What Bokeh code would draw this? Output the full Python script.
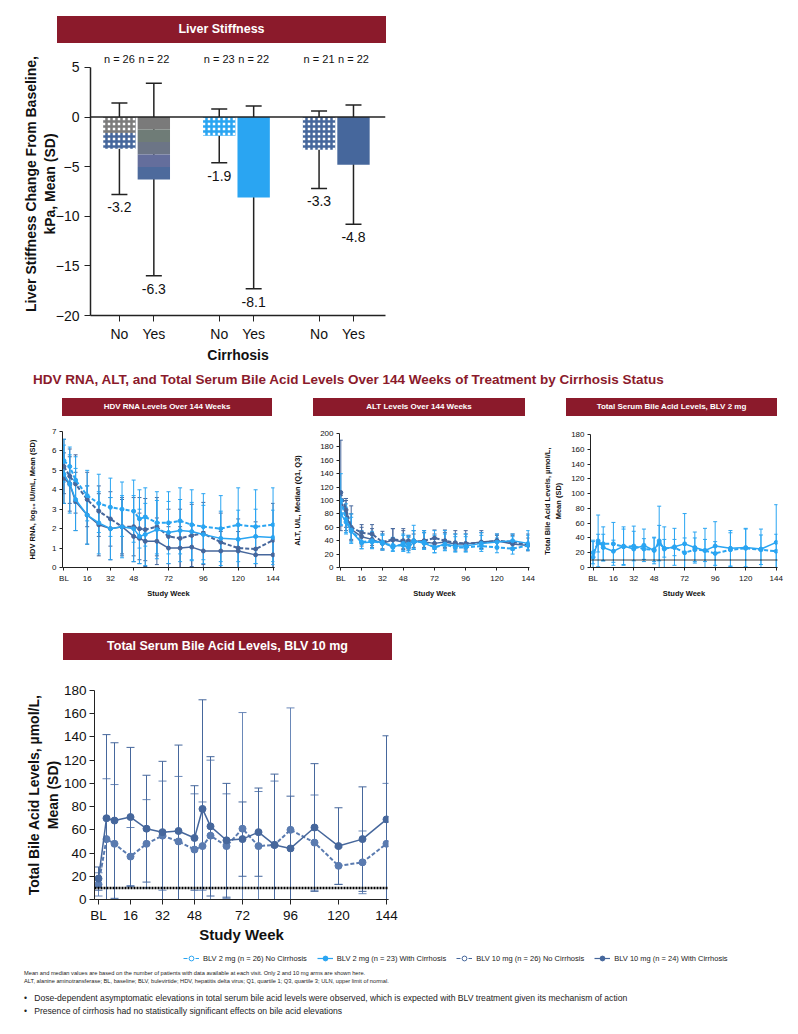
import numpy as np
from bokeh.plotting import figure
from bokeh.models import (Range1d, FixedTicker, ColumnDataSource, Whisker, TeeHead,
                          Span, Label, Div, Spacer, Legend, LegendItem)
from bokeh.layouts import column, row
from bokeh.embed import file_html
from bokeh.resources import INLINE
from bokeh.core.properties import value

# ---------------- data ----------------
# Liver stiffness (change from baseline, kPa)
ls_group = [0, 0, 1, 1, 2, 2]
ls_cirrhosis = ["No", "Yes", "No", "Yes", "No", "Yes"]
ls_n = ["n = 26", "n = 22", "n = 23", "n = 22", "n = 21", "n = 22"]
ls_mean = [-3.2, -6.3, -1.9, -8.1, -3.3, -4.8]
ls_sd = [4.6, 9.7, 2.7, 9.2, 3.9, 6.0]

weeks = [0, 4, 8, 16, 24, 32, 40, 48, 52, 56, 64, 72, 80, 88, 96, 108, 120, 132, 144]
week_ticks = [0, 16, 32, 48, 72, 96, 120, 144]
week_tick_labels = ["BL", "16", "32", "48", "72", "96", "120", "144"]

# HDV RNA, log10 IU/mL, mean (SD)
hdv_2_nc = [5.5, 5.2, 4.5, 3.7, 3.3, 3.1, 3.0, 2.9, 2.5, 2.6, 2.3, 2.3, 2.4, 2.2, 2.1, 2.0, 2.2, 2.1, 2.2]
hdv_2_nc_sd = [1.1, 1.0, 1.2, 1.3, 1.5, 1.5, 1.4, 1.6, 1.5, 1.5, 1.6, 1.6, 1.7, 1.8, 1.7, 1.7, 1.9, 1.9, 1.9]
hdv_2_wc = [4.8, 4.3, 3.5, 2.7, 2.3, 2.0, 2.1, 2.0, 1.6, 1.7, 1.95, 1.8, 1.9, 1.85, 1.7, 1.5, 1.45, 1.6, 1.55]
hdv_2_wc_sd = [1.5, 1.5, 1.6, 1.5, 1.6, 1.6, 1.6, 1.7, 1.4, 1.6, 1.5, 1.6, 1.6, 1.5, 1.5, 1.4, 1.5, 1.4, 1.4]
hdv_10_nc = [5.2, 4.7, 4.3, 3.5, 2.9, 2.5, 2.1, 2.1, 2.0, 1.95, 2.1, 1.6, 1.5, 1.65, 1.75, 1.3, 1.0, 0.95, 1.4]
hdv_10_nc_sd = [1.4, 1.4, 1.5, 1.4, 1.3, 1.4, 1.5, 1.5, 1.6, 1.6, 1.5, 1.4, 1.5, 1.6, 1.6, 1.5, 1.5, 1.4, 1.9]
hdv_10_wc = [4.6, 4.3, 3.4, 2.7, 2.2, 2.0, 2.1, 1.6, 1.5, 1.35, 1.35, 1.0, 1.0, 1.05, 0.85, 0.85, 0.85, 0.65, 0.65]
hdv_10_wc_sd = [1.3, 1.4, 1.5, 1.5, 1.6, 1.6, 1.4, 1.3, 1.3, 1.3, 1.2, 1.1, 1.1, 1.2, 1.0, 1.0, 1.0, 0.9, 0.9]

# ALT, U/L, median (Q1, Q3)
alt_2_nc = [100, 72, 56, 38, 40, 36, 33, 33, 30, 38, 38, 30, 34, 30, 30, 32, 30, 28, 33]
alt_2_nc_q1 = [64, 52, 38, 28, 29, 27, 25, 24, 22, 27, 28, 22, 25, 23, 23, 24, 22, 20, 25]
alt_2_nc_q3 = [140, 95, 80, 55, 54, 50, 45, 48, 45, 63, 55, 48, 50, 46, 46, 48, 44, 46, 48]
alt_2_wc = [80, 68, 54, 37, 38, 38, 30, 36, 35, 40, 36, 30, 35, 32, 32, 36, 38, 40, 36]
alt_2_wc_q1 = [63, 50, 36, 28, 28, 26, 24, 25, 25, 28, 27, 22, 26, 24, 24, 27, 28, 28, 27]
alt_2_wc_q3 = [101, 90, 75, 52, 52, 48, 44, 50, 48, 55, 52, 55, 55, 50, 50, 52, 50, 50, 55]
alt_10_nc = [112, 86, 60, 52, 50, 38, 42, 40, 40, 38, 40, 44, 40, 37, 36, 37, 40, 38, 34]
alt_10_nc_q1 = [55, 55, 42, 35, 33, 28, 30, 28, 28, 27, 30, 32, 30, 28, 28, 28, 30, 30, 26]
alt_10_nc_q3 = [190, 103, 92, 64, 64, 54, 58, 58, 48, 50, 55, 56, 56, 55, 55, 55, 50, 50, 44]
alt_10_wc = [100, 80, 57, 46, 42, 36, 41, 38, 35, 40, 38, 36, 38, 35, 35, 38, 40, 35, 33]
alt_10_wc_q1 = [62, 60, 40, 32, 30, 26, 30, 27, 26, 30, 28, 27, 28, 26, 26, 28, 30, 26, 25]
alt_10_wc_q3 = [113, 100, 80, 60, 58, 50, 58, 55, 46, 55, 52, 50, 52, 50, 50, 52, 48, 48, 50]

# Total serum bile acids, umol/L, mean (SD)
uln = 10
tba_2_nc = [20, 33, 32, 32, 28, 29, 25, 24, 33, 26, 27, 20, 24, 23, 19, 24, 26, 24, 22]
tba_2_nc_sd = [15, 12, 23, 29, 24, 20, 14, 16, 24, 12, 11, 20, 16, 15, 16, 23, 26, 20, 23]
tba_2_wc = [14, 36, 27, 22, 29, 25, 30, 23, 36, 25, 28, 32, 27, 23, 29, 26, 27, 25, 34]
tba_2_wc_sd = [23, 35, 18, 15, 26, 31, 22, 18, 47, 30, 25, 41, 21, 30, 33, 24, 26, 27, 51]
tba_10_nc = [13, 52, 48, 37, 48, 55, 50, 43, 46, 55, 46, 61, 46, 47, 60, 49, 29, 32, 48]
tba_10_nc_sd = [10, 52, 51, 25, 38, 47, 56, 48, 38, 65, 45, 100, 47, 55, 105, 41, 16, 27, 52]
tba_10_wc = [18, 70, 68, 71, 61, 58, 59, 53, 78, 63, 51, 52, 58, 47, 44, 62, 46, 52, 69]
tba_10_wc_sd = [10, 72, 67, 60, 46, 61, 74, 45, 94, 60, 49, 32, 38, 61, 45, 55, 33, 45, 72]

legend_labels = ["BLV 2 mg (n = 26) No Cirrhosis", "BLV 2 mg (n = 23) With Cirrhosis",
                 "BLV 10 mg (n = 26) No Cirrhosis", "BLV 10 mg (n = 24) With Cirrhosis"]

# ---------------- styles ----------------
FONT = "Liberation Sans"
RED = "#8B1A2B"
LIGHT = "#2AA5F2"
DARK = "#46679C"
GRAY = "#7C7C7C"
INK = "#222222"
Z = (0, 0, 0, 0)


def style(p, tick_fs, label_fs, tick_out):
    p.outline_line_color = None
    p.xgrid.visible = False
    p.ygrid.visible = False
    p.background_fill_color = "white"
    p.border_fill_color = "white"
    for ax in p.axis:
        ax.axis_line_color = INK
        ax.major_tick_line_color = INK
        ax.minor_tick_line_color = None
        ax.major_tick_in = 0
        ax.major_tick_out = tick_out
        ax.major_label_text_font = FONT
        ax.major_label_text_font_size = tick_fs
        ax.major_label_text_color = "#111111"
        ax.axis_label_text_font = FONT
        ax.axis_label_text_font_style = "bold"
        ax.axis_label_text_font_size = label_fs
        ax.axis_label_text_color = "#111111"


def bar_title(text, w, h, fs):
    return Div(text=(f'<div style="background:{RED};color:white;font-family:\'{FONT}\';'
                     f'font-weight:bold;font-size:{fs};width:{w}px;height:{h}px;line-height:{h}px;'
                     f'text-align:center;white-space:nowrap;overflow:hidden">{text}</div>'),
               width=w, height=h, margin=Z)


def add_err(p, x, lo, hi, color, lw, head, alpha=1.0):
    src = ColumnDataSource(dict(x=list(x), lo=list(lo), hi=list(hi)))
    th = dict(size=head, line_color=color, line_width=lw, line_alpha=alpha)
    p.add_layout(Whisker(source=src, base="x", lower="lo", upper="hi", line_color=color,
                         line_width=lw, line_alpha=alpha,
                         upper_head=TeeHead(**th), lower_head=TeeHead(**th)))


# ---------------- liver stiffness bar chart ----------------
GROUP_STEP = 2.9
ls_x = [round(g * GROUP_STEP + (i % 2), 2) for i, g in enumerate(ls_group)]
mean = np.array(ls_mean)
sd = np.array(ls_sd)

p1 = figure(width=392, height=322, x_range=Range1d(-0.84, 7.73), y_range=Range1d(-20, 6.5),
            output_backend="svg", toolbar_location=None, title=None,
            min_border_left=82, min_border_right=15, min_border_top=9, min_border_bottom=49)
BW = 0.94
HATCH = dict(fill_color="white", hatch_pattern="+", hatch_scale=5, hatch_weight=2.5, line_color=None)
no_idx = [0, 2, 4]
no_cols = [DARK, LIGHT, DARK]
p1.vbar(x=[ls_x[i] for i in no_idx], top=0, bottom=[ls_mean[i] for i in no_idx], width=BW,
        hatch_color=no_cols, **HATCH)
# upper half of the first checkered bar is rendered grey in the source figure
p1.vbar(x=[ls_x[0]], top=0, bottom=[ls_mean[0] / 2], width=BW, hatch_color=GRAY, **HATCH)
band_cols = ["#7A7A7A", "#6F7C77", "#6C7586", "#646E9C", "#4D6A9C"]
nb = len(band_cols)
p1.vbar(x=[ls_x[1]] * nb, top=[ls_mean[1] * k / nb for k in range(nb)],
        bottom=[ls_mean[1] * (k + 1) / nb for k in range(nb)], width=BW,
        fill_color=band_cols, line_color=None)
p1.vbar(x=[ls_x[3], ls_x[5]], top=0, bottom=[ls_mean[3], ls_mean[5]], width=BW,
        fill_color=[LIGHT, DARK], line_color=None)
p1.add_layout(Span(location=0, dimension="width", line_color=INK, line_width=1.5))
add_err(p1, ls_x, mean - sd, mean + sd, INK, 1.5, 16)
p1.text(x=ls_x, y=list(mean - sd), text=[f"{m:.1f}" for m in ls_mean], y_offset=13,
        text_align="center", text_baseline="middle", text_font=value(FONT),
        text_font_size="14px", text_color="#111111")
p1.text(x=ls_x, y=[5.8] * len(ls_x), text=ls_n, text_align="center", text_baseline="middle",
        text_font=value(FONT), text_font_size="11px", text_color="#111111")
style(p1, "14px", "14px", 6)
p1.yaxis.ticker = FixedTicker(ticks=[5, 0, -5, -10, -15, -20])
p1.yaxis.bounds = (-20, 5)
p1.yaxis.axis_label = "Liver Stiffness Change From Baseline,\nkPa, Mean (SD)"
p1.yaxis.axis_label_standoff = -5
p1.yaxis.axis_line_width = 1.5
p1.xaxis.axis_line_width = 1.5
p1.xaxis.ticker = FixedTicker(ticks=ls_x)
p1.xaxis.major_label_overrides = {x: c for x, c in zip(ls_x, ls_cirrhosis)}
p1.xaxis.axis_label = "Cirrhosis"
p1.xaxis.axis_label_standoff = 2
p1.xaxis.major_label_standoff = 4

top_block = column(
    Spacer(width=782, height=8, margin=Z),
    row(Spacer(width=49, height=27, margin=Z), bar_title("Liver Stiffness", 329, 27, "12.5px")),
    p1,
)

section = Div(text=(f'<div style="font-family:\'{FONT}\',sans-serif;'
                    f'font-weight:bold;font-size:13.5px;color:{RED};'
                    f'line-height:30px;padding-left:25px;white-space:nowrap">'
                    'HDV RNA, ALT, and Total Serum Bile Acid Levels Over 144 Weeks of Treatment by Cirrhosis Status</div>'),
              width=782, height=30, margin=Z)


# ---------------- small line panels ----------------
def line_panel(w, h, xr, yr, borders, yticks, ylabel, series, label_standoff, lw=1.5, msize=4,
               head=4, tick_fs="8px", lab_fs="7.5px", tick_out=3):
    left, right, top, bottom = borders
    p = figure(width=w, height=h, x_range=Range1d(*xr), y_range=Range1d(*yr),
               output_backend="svg", toolbar_location=None, title=None,
               min_border_left=left, min_border_right=right, min_border_top=top,
               min_border_bottom=bottom)
    for ys, lo, hi, col, dash, ealpha in series:
        add_err(p, weeks, lo, hi, col, 1 if lw < 2 else 2, head, ealpha)
    for ys, lo, hi, col, dash, ealpha in series:
        p.line(weeks, ys, line_color=col, line_width=lw if dash == "solid" else lw + 0.5, line_dash=dash)
        p.scatter(weeks, ys, marker="circle", size=msize, fill_color=col, line_color=col)
    style(p, tick_fs, lab_fs, tick_out)
    p.xaxis.ticker = FixedTicker(ticks=week_ticks)
    p.xaxis.major_label_overrides = {t: s for t, s in zip(week_ticks, week_tick_labels)}
    p.xaxis.axis_label = "Study Week"
    p.xaxis.axis_label_standoff = 3
    p.xaxis.major_label_standoff = 3
    p.yaxis.ticker = FixedTicker(ticks=yticks)
    p.yaxis.axis_label = ylabel
    p.yaxis.axis_label_standoff = label_standoff
    p.yaxis.major_label_standoff = 3
    return p


def sd_series(m, s, col, dash, alpha=1.0):
    m = np.array(m, float)
    s = np.array(s, float)
    return (list(m), list(np.maximum(m - s, 0)), list(m + s), col, dash, alpha)


def q_series(m, q1, q3, col, dash):
    return (m, q1, q3, col, dash, 1.0)


DASH = "4 2"
pA = line_panel(282, 184, (-1, 145), (0, 7), (54, 16, 15, 32), list(range(0, 8)),
                "HDV RNA, log\u2081\u2080 IU/mL, Mean (SD)",
                [sd_series(hdv_10_nc, hdv_10_nc_sd, DARK, DASH), sd_series(hdv_10_wc, hdv_10_wc_sd, DARK, "solid"),
                 sd_series(hdv_2_nc, hdv_2_nc_sd, LIGHT, DASH), sd_series(hdv_2_wc, hdv_2_wc_sd, LIGHT, "solid")],
                label_standoff=12)
pB = line_panel(250, 184, (-1, 145), (0, 200), (48, 11, 17, 32), list(range(0, 201, 20)),
                "ALT, U/L, Median (Q1, Q3)",
                [q_series(alt_10_nc, alt_10_nc_q1, alt_10_nc_q3, DARK, DASH),
                 q_series(alt_10_wc, alt_10_wc_q1, alt_10_wc_q3, DARK, "solid"),
                 q_series(alt_2_nc, alt_2_nc_q1, alt_2_nc_q3, LIGHT, DASH),
                 q_series(alt_2_wc, alt_2_wc_q1, alt_2_wc_q3, LIGHT, "solid")],
                label_standoff=15)
pC = line_panel(250, 184, (-2, 145), (0, 180), (49, 13, 18, 31), list(range(0, 181, 20)),
                "Total Bile Acid Levels, \u00b5mol/L,\nMean (SD)",
                [sd_series(tba_2_nc, tba_2_nc_sd, LIGHT, DASH), sd_series(tba_2_wc, tba_2_wc_sd, LIGHT, "solid")],
                label_standoff=5)
pC.add_layout(Span(location=uln, dimension="width", line_color="black", line_width=1.5, line_dash="1 1"))
pC.add_layout(Label(x=145, y=uln, text="ULN", x_offset=1, text_baseline="middle", text_font=FONT,
                    text_font_size="5.5px", text_color="#111111"))


def panel_col(w, title_off, title_w, title, fig):
    return column(Spacer(width=w, height=3, margin=Z),
                  row(Spacer(width=title_off, height=18, margin=Z), bar_title(title, title_w, 18, "8px")),
                  fig)


panels = row(panel_col(282, 54, 210, "HDV RNA Levels Over 144 Weeks", pA),
             panel_col(250, 23, 212, "ALT Levels Over 144 Weeks", pB),
             panel_col(250, 26, 211, "Total Serum Bile Acid Levels, BLV 2 mg", pC))

# ---------------- bottom: bile acids BLV 10 mg ----------------
pD = line_panel(412, 285, (-2, 145), (0, 180), (86, 32, 30, 46), list(range(0, 181, 20)),
                "Total Bile Acid Levels, \u00b5mol/L,\nMean (SD)",
                [sd_series(tba_10_nc, tba_10_nc_sd, "#5A7BB0", DASH, 0.9),
                 sd_series(tba_10_wc, tba_10_wc_sd, DARK, "solid")],
                label_standoff=0, lw=1.5, msize=7, head=8, tick_fs="13.5px", lab_fs="14px", tick_out=5)
pD.xaxis.axis_label_text_font_size = "15px"
pD.xaxis.axis_label_standoff = 0
pD.add_layout(Span(location=uln, dimension="width", line_color="black", line_width=2.5, line_dash="2 1"))
pD.add_layout(Label(x=145, y=uln, text="ULN", x_offset=3, text_baseline="middle", text_font=FONT,
                    text_font_size="9px", text_color="#111111"))

bottom_block = column(
    Spacer(width=412, height=33, margin=Z),
    row(Spacer(width=55, height=27, margin=Z),
        bar_title("Total Serum Bile Acid Levels, BLV 10 mg", 329, 27, "12.5px")),
    pD,
)

# ---------------- legend row ----------------
pL = figure(width=782, height=23, x_range=Range1d(0, 1), y_range=Range1d(0, 1),
            output_backend="svg", toolbar_location=None, title=None,
            x_axis_type=None, y_axis_type=None, min_border=0)
pL.outline_line_color = None
pL.xgrid.visible = False
pL.ygrid.visible = False
items = []
for lab, col, dash, fill in zip(legend_labels, [LIGHT, LIGHT, DARK, DARK],
                                [DASH, "solid", DASH, "solid"], ["white", LIGHT, "white", DARK]):
    # off-screen proxy glyphs that only feed the legend swatches
    proxy = ColumnDataSource(dict(x=[-10, -9], y=[-10, -10]))
    r1 = pL.line("x", "y", source=proxy, line_color=col, line_width=1.2, line_dash=dash)
    r2 = pL.scatter("x", "y", source=proxy, marker="circle", size=5, fill_color=fill, line_color=col)
    items.append(LegendItem(label=lab, renderers=[r1, r2]))
leg = Legend(items=items, orientation="horizontal", location=(175, 4), glyph_width=16, glyph_height=12,
             label_height=12, label_standoff=4, spacing=10, padding=0, margin=0,
             label_text_font=FONT, label_text_font_size="7.5px", label_text_color="#222222",
             border_line_color=None, background_fill_alpha=0)
pL.add_layout(leg)

foot = Div(text=(f'<div style="font-family:\'{FONT}\';color:#222;padding-left:16px;white-space:nowrap">'
                 '<div style="font-size:5.7px;line-height:8px;margin-top:1px">'
                 'Mean and median values are based on the number of patients with data available at each visit. '
                 'Only 2 and 10 mg arms are shown here.<br>'
                 'ALT, alanine aminotransferase; BL, baseline; BLV, bulevirtide; HDV, hepatitis delta virus; '
                 'Q1, quartile 1; Q3, quartile 3; ULN, upper limit of normal.</div>'
                 '<div style="font-size:8.6px;line-height:13px;margin-top:7px">'
                 '&bull;&nbsp;&nbsp;&nbsp;Dose-dependent asymptomatic elevations in total serum bile acid levels were observed, '
                 'which is expected with BLV treatment given its mechanism of action<br>'
                 '&bull;&nbsp;&nbsp;&nbsp;Presence of cirrhosis had no statistically significant effects on bile acid elevations'
                 '</div></div>'),
           width=782, height=52, margin=Z)

layout = column(top_block, section, panels, bottom_block, pL, foot, margin=(8, 8, 0, 8))
open("out.html", "w").write(file_html(layout, INLINE))
